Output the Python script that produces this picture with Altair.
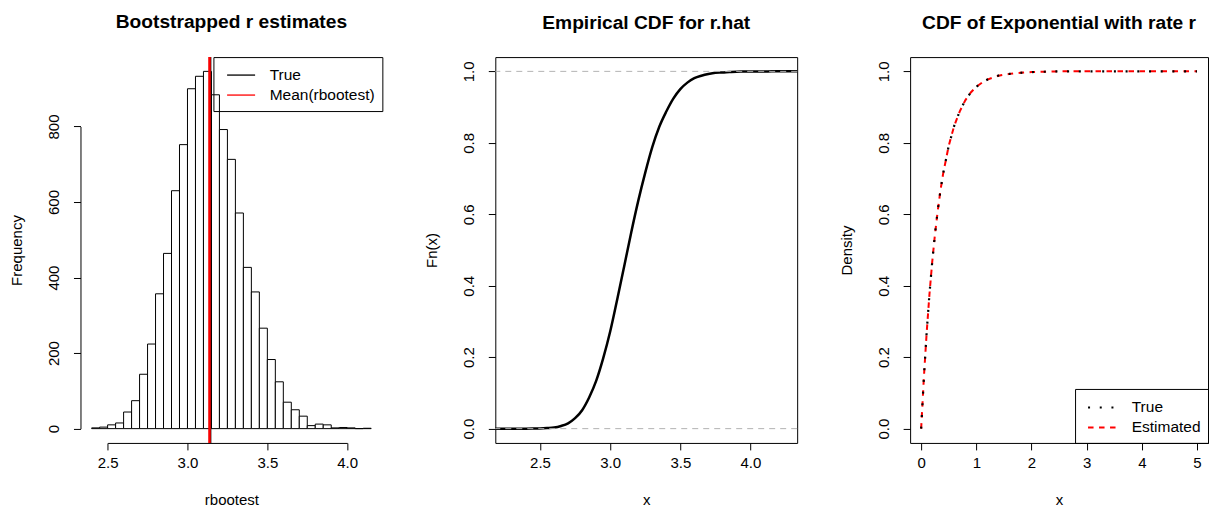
import altair as alt
import numpy as np
import pandas as pd

FONT = "Liberation Sans"

# ---------------- data ----------------
# Panel 1: histogram of bootstrapped r estimates
hist_breaks = [2.40, 2.45, 2.50, 2.55, 2.60, 2.65, 2.70, 2.75, 2.80, 2.85, 2.90,
               2.95, 3.00, 3.05, 3.10, 3.15, 3.20, 3.25, 3.30, 3.35, 3.40, 3.45,
               3.50, 3.55, 3.60, 3.65, 3.70, 3.75, 3.80, 3.85, 3.90, 3.95, 4.00,
               4.05, 4.10, 4.15]
hist_counts = [2, 4, 10, 15, 44, 74, 144, 224, 357, 464, 630, 752, 900, 933, 946,
               884, 792, 713, 571, 427, 362, 266, 183, 124, 70, 50, 33, 8, 12, 10,
               2, 3, 2, 0, 1]
vline_names = ["True", "Mean(rbootest)"]
vline_values = [3.1416, 3.138]
hist_x_ticks = [2.5, 3.0, 3.5, 4.0]
hist_y_ticks = [0, 200, 400, 600, 800]

# Panel 2: empirical CDF (cumulated from the same bootstrap counts)
ecdf_xlim = [2.181, 4.333]
ecdf_x_ticks = [2.5, 3.0, 3.5, 4.0]
prob_ticks = [0.0, 0.2, 0.4, 0.6, 0.8, 1.0]
ref_levels = [0.0, 1.0]

# Panel 3: exponential CDF, true and estimated rate
exp_x = [0, 0.05, 0.1, 0.15, 0.2, 0.25, 0.3, 0.35, 0.4, 0.5, 0.6, 0.7, 0.8, 0.9,
         1.0, 1.1, 1.2, 1.4, 1.6, 1.8, 2.0, 2.5, 3.0, 3.5, 4.0, 4.5, 5.0]
exp_true = [0.0, 0.145, 0.270, 0.376, 0.466, 0.544, 0.610, 0.667, 0.715, 0.792,
            0.848, 0.889, 0.919, 0.941, 0.957, 0.968, 0.977, 0.988, 0.993, 0.996,
            0.998, 1.0, 1.0, 1.0, 1.0, 1.0, 1.0]
exp_est = [0.0, 0.145, 0.269, 0.375, 0.466, 0.543, 0.609, 0.667, 0.715, 0.792,
           0.848, 0.888, 0.919, 0.941, 0.957, 0.968, 0.977, 0.988, 0.993, 0.996,
           0.998, 1.0, 1.0, 1.0, 1.0, 1.0, 1.0]
exp_x_ticks = [0, 1, 2, 3, 4, 5]
exp_series = ["True", "Estimated"]

# ---------------- derived tables ----------------
hist_df = pd.DataFrame({"lo": hist_breaks[:-1], "hi": hist_breaks[1:], "n": hist_counts})
vline_df = pd.DataFrame({"name": vline_names, "x": vline_values})

cum = (np.cumsum(hist_counts) / np.sum(hist_counts)).tolist()
ecdf_df = pd.DataFrame({
    "x": [ecdf_xlim[0]] + hist_breaks + [ecdf_xlim[1]],
    "F": [0.0, 0.0] + cum + [1.0],
})
lvl_df = pd.DataFrame({"y": ref_levels})

exp_df = pd.concat([
    pd.DataFrame({"x": exp_x, "F": exp_true, "series": "True"}),
    pd.DataFrame({"x": exp_x, "F": exp_est, "series": "Estimated"}),
])

# ---------------- layout ----------------
W1, W2, W3, H = 302, 302, 298, 386


def title(text):
    return alt.Title(text, font=FONT, fontSize=19.2, fontWeight="bold", color="black",
                     anchor="middle", frame="group", offset=23.5)


def xaxis(values, fmt, ttl, w, domain_dash=None):
    kw = dict(values=values, format=fmt, title=ttl, labelBaseline="middle",
              labelPadding=13, titleX=w / 2, titleY=57, titleAlign="center",
              titleBaseline="middle")
    if domain_dash is not None:
        kw.update(domain=True, domainDash=domain_dash, domainColor="black", domainWidth=1)
    else:
        kw.update(domain=False)
    return alt.Axis(**kw)


def yaxis(values, fmt, ttl, domain_dash=None):
    kw = dict(values=values, format=fmt, title=ttl, labelAngle=270, labelAlign="center",
              labelBaseline="middle", labelPadding=20, titleAngle=270, titleX=-64,
              titleY=H / 2, titleAlign="center", titleBaseline="middle")
    if domain_dash is not None:
        kw.update(domain=True, domainDash=domain_dash, domainColor="black", domainWidth=1)
    else:
        kw.update(domain=False)
    return alt.Axis(**kw)


# ---- panel 1 ----
x1_dom = [2.33, 4.22]
y1_dom = [-37.84, 983.84]
xs1 = alt.Scale(domain=x1_dom, nice=False, zero=False)
ys1 = alt.Scale(domain=y1_dom, nice=False, zero=False)
pxu = W1 / (x1_dom[1] - x1_dom[0])
pyu = H / (y1_dom[1] - y1_dom[0])
xd = [0.001, (2.5 - x1_dom[0]) * pxu, (4.0 - 2.5) * pxu, 3000]
yd = [0.001, (0 - y1_dom[0]) * pyu, 800 * pyu, 3000]

bars = alt.Chart(hist_df).mark_rect(fill="white", stroke="black", strokeWidth=1).encode(
    x=alt.X("lo:Q", scale=xs1, axis=xaxis(hist_x_ticks, ".1f", "rbootest", W1, xd)),
    x2="hi:Q",
    y=alt.Y("n:Q", scale=ys1, axis=yaxis(hist_y_ticks, "d", "Frequency", yd)),
    y2=alt.datum(0),
)
vlines = alt.Chart(vline_df).mark_rule(strokeWidth=2.5).encode(
    x=alt.X("x:Q", scale=xs1),
    color=alt.Color("name:N", sort=vline_names,
                    scale=alt.Scale(domain=vline_names, range=["black", "red"]),
                    legend=alt.Legend(title=None, orient="top-right", offset=0,
                                      padding=7, symbolType="M-0.43,0L2.37,0",
                                      symbolSize=400, symbolStrokeWidth=1.3,
                                      labelOffset=27.3, rowPadding=-2)),
)
p1 = alt.layer(bars, vlines).properties(width=W1, height=H,
                                         title=title("Bootstrapped r estimates"))

# ---- panel 2 ----
xs2 = alt.Scale(domain=ecdf_xlim, nice=False, zero=False)
ys2 = alt.Scale(domain=[-0.04, 1.04], nice=False, zero=False)
ecdf_line = alt.Chart(ecdf_df).mark_line(color="black", strokeWidth=2.5,
                                         interpolate="monotone").encode(
    x=alt.X("x:Q", scale=xs2, axis=xaxis(ecdf_x_ticks, ".1f", "x", W2)),
    y=alt.Y("F:Q", scale=ys2, axis=yaxis(prob_ticks, ".1f", "Fn(x)")),
)
lvl = alt.Chart(lvl_df).mark_rule(color="#b3b3b3", strokeWidth=1, strokeDash=[6, 5]).encode(
    y=alt.Y("y:Q", scale=ys2)
)
p2 = alt.layer(ecdf_line, lvl).properties(
    width=W2, height=H, title=title("Empirical CDF for r.hat"),
    view=alt.ViewBackground(stroke="black", strokeWidth=1))

# ---- panel 3 ----
xs3 = alt.Scale(domain=[-0.2, 5.2], nice=False, zero=False)
ys3 = alt.Scale(domain=[-0.04, 1.04], nice=False, zero=False)
leg3 = alt.Legend(title=None, orient="bottom-right", offset=0, padding=7,
                  symbolType="M-0.524,0L2.333,0", symbolSize=441, symbolStrokeWidth=2,
                  labelOffset=26.7, rowPadding=-5)
color3 = alt.Color("series:N", sort=exp_series,
                   scale=alt.Scale(domain=exp_series, range=["black", "red"]), legend=leg3)
dash3 = alt.StrokeDash("series:N", sort=exp_series,
                       scale=alt.Scale(domain=exp_series, range=[[2, 9.7], [5.5, 5.5]]),
                       legend=leg3)
est_line = alt.Chart(exp_df[exp_df.series == "Estimated"]).mark_line(strokeWidth=2).encode(
    x=alt.X("x:Q", scale=xs3, axis=xaxis(exp_x_ticks, "d", "x", W3)),
    y=alt.Y("F:Q", scale=ys3, axis=yaxis(prob_ticks, ".1f", "Density")),
    color=color3, strokeDash=dash3,
)
true_line = alt.Chart(exp_df[exp_df.series == "True"]).mark_line(strokeWidth=2.2).encode(
    x=alt.X("x:Q", scale=xs3), y=alt.Y("F:Q", scale=ys3),
    color=color3, strokeDash=dash3,
)
p3 = alt.layer(est_line, true_line).properties(
    width=W3, height=H, title=title("CDF of Exponential with rate r"),
    view=alt.ViewBackground(stroke="black", strokeWidth=1))

chart = alt.hconcat(p1, p2, p3, spacing=113, bounds="flush").resolve_scale(
    color="independent", strokeDash="independent"
).resolve_legend(
    color="independent", strokeDash="independent"
).properties(
    padding={"left": 1.5, "top": 5, "right": 0, "bottom": 0}
).configure_view(strokeWidth=0).configure_axis(
    labelFont=FONT, labelFontSize=15, labelColor="black", tickColor="black",
    tickSize=7, tickWidth=1, titleFont=FONT, titleFontSize=15, titleFontWeight="normal",
    titleColor="black", grid=False, labelFlush=False, labelOverlap=False,
).configure_legend(
    labelFont=FONT, labelFontSize=15.5, labelColor="black", strokeColor="black",
    strokeWidth=1, symbolFillColor="transparent",
)

chart.save("out.html", embed_options={"renderer": "svg", "actions": False})
